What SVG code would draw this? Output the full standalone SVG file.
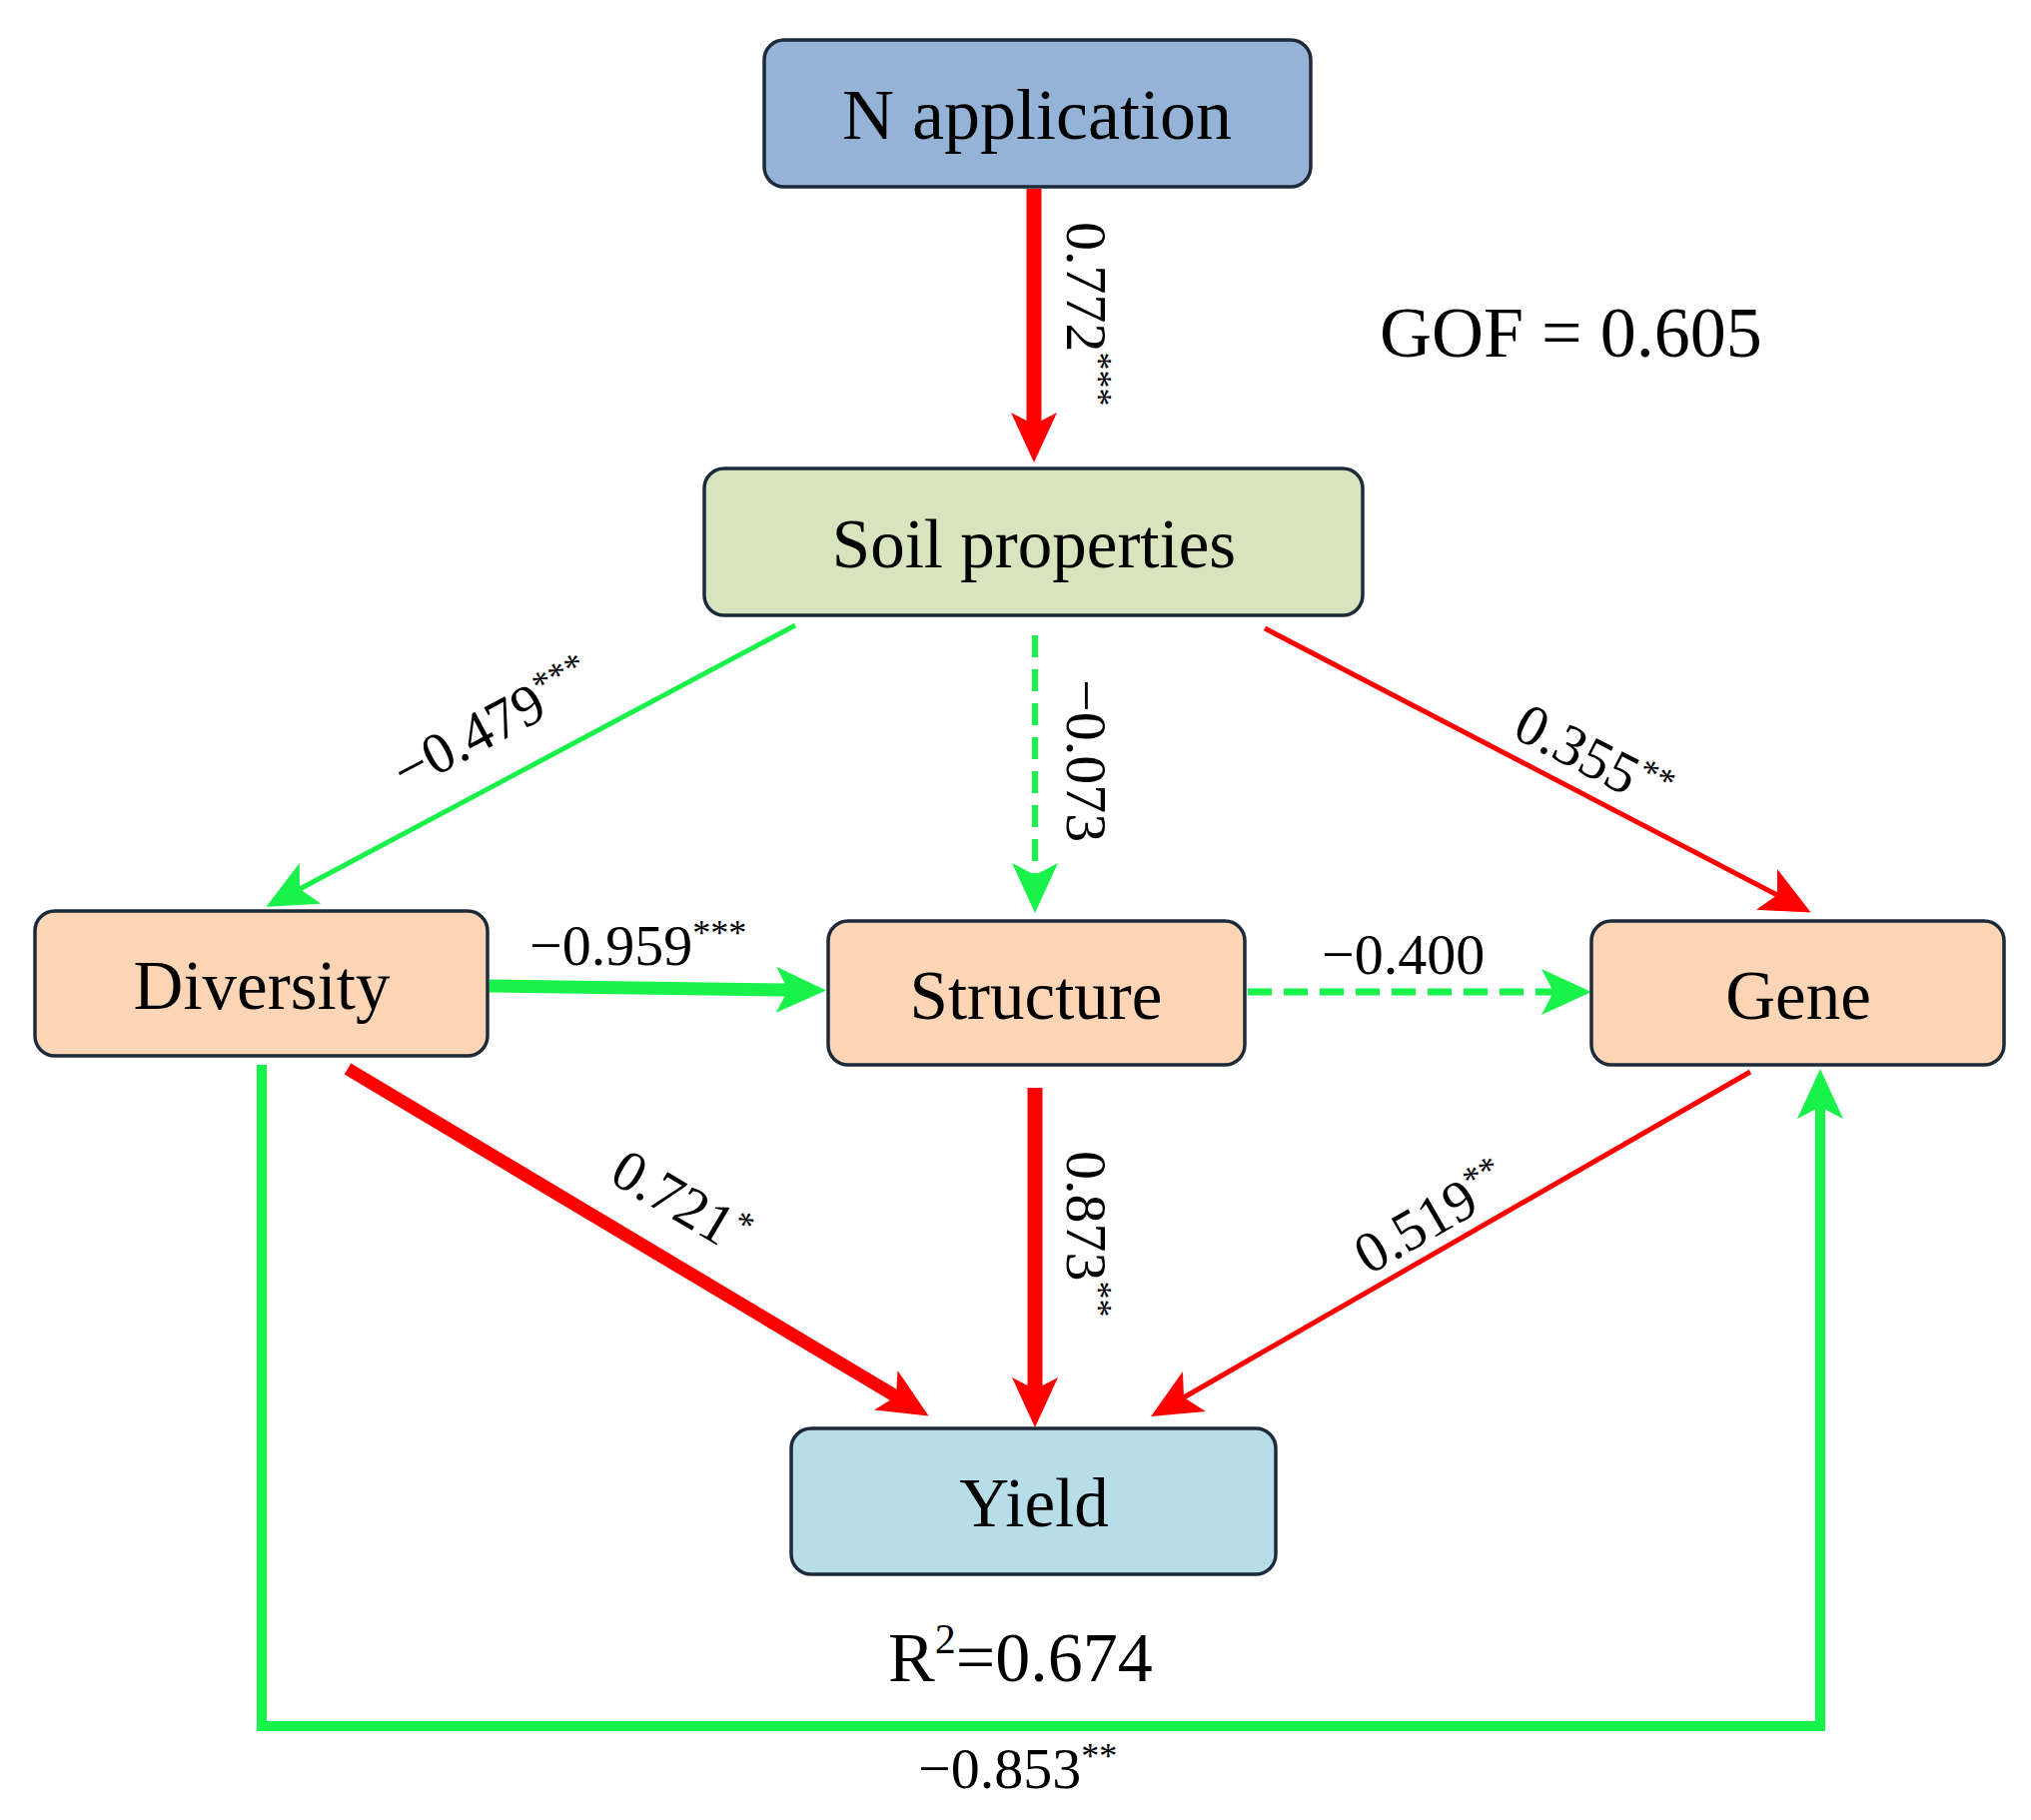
<svg xmlns="http://www.w3.org/2000/svg" width="2033" height="1822" viewBox="0 0 2033 1822">
<style>
.n{stroke:#1d2a3a;stroke-width:3.5}
.t{font-family:"Liberation Serif",serif;font-size:69px;text-anchor:middle;fill:#000}
.l{font-family:"Liberation Serif",serif;font-size:58px;fill:#000}
.s{font-size:36px}
.r{stroke:#ff0000;fill:none}
.g{stroke:#19f24a;fill:none}
</style>
<defs>
<marker id="ar" viewBox="0 0 50 46" refX="12" refY="23" markerWidth="50" markerHeight="46" markerUnits="userSpaceOnUse" orient="auto"><path d="M0,0 L50,23 L0,46 L12,23 Z" fill="#ff0000"/></marker>
<marker id="ag" viewBox="0 0 50 46" refX="12" refY="23" markerWidth="50" markerHeight="46" markerUnits="userSpaceOnUse" orient="auto"><path d="M0,0 L50,23 L0,46 L12,23 Z" fill="#19f24a"/></marker>
</defs>
<rect width="2033" height="1822" fill="#fff"/>
<g id="connectors">
<line class="r" x1="1035" y1="189" x2="1035" y2="425" stroke-width="15" marker-end="url(#ar)"/>
<line class="g" x1="796" y1="626" x2="300" y2="890" stroke-width="5" marker-end="url(#ag)"/>
<line class="g" x1="1036" y1="636" x2="1036" y2="876" stroke-width="6" stroke-dasharray="22,12" marker-end="url(#ag)"/>
<line class="r" x1="1266" y1="629" x2="1779" y2="896" stroke-width="5" marker-end="url(#ar)"/>
<line class="g" x1="490" y1="987" x2="789" y2="991" stroke-width="13" marker-end="url(#ag)"/>
<line class="g" x1="1249" y1="993" x2="1555" y2="993" stroke-width="7" stroke-dasharray="24,12" marker-end="url(#ag)"/>
<line class="r" x1="348" y1="1070" x2="897" y2="1398" stroke-width="13" marker-end="url(#ar)"/>
<line class="r" x1="1036" y1="1089" x2="1036" y2="1391" stroke-width="15" marker-end="url(#ar)"/>
<line class="r" x1="1752" y1="1073" x2="1185" y2="1399" stroke-width="5" marker-end="url(#ar)"/>
<path class="g" d="M262,1066 V1728 H1822 V1108" stroke-width="10" marker-end="url(#ag)"/>
</g>
<g id="n_app"><rect class="n" x="765" y="40" width="547" height="147" rx="20" fill="#95b3d7"/><text class="t" x="1038" y="139" style="font-size:72px">N application</text></g>
<g id="soil"><rect class="n" x="705" y="469" width="659" height="147" rx="20" fill="#d7e4bd"/><text class="t" x="1035" y="568">Soil properties</text></g>
<g id="diversity"><rect class="n" x="35" y="912" width="453" height="145" rx="20" fill="#fbd5b5"/><text class="t" x="262" y="1010">Diversity</text></g>
<g id="structure"><rect class="n" x="829" y="922" width="417" height="144" rx="20" fill="#fbd5b5"/><text class="t" x="1037" y="1020">Structure</text></g>
<g id="gene"><rect class="n" x="1593" y="922" width="413" height="144" rx="20" fill="#fbd5b5"/><text class="t" x="1800" y="1020">Gene</text></g>
<g id="yield"><rect class="n" x="792" y="1430" width="485" height="146" rx="20" fill="#b7dde8"/><text class="t" x="1035" y="1528">Yield</text></g>
<g id="labels">
<text class="l" transform="translate(1068,222) rotate(90)">0.772<tspan class="s" dy="-20">***</tspan></text>
<text class="l" x="1381" y="357" style="font-size:72px">GOF = 0.605</text>
<text class="l" transform="translate(406,793) rotate(-28)">−0.479<tspan class="s" dy="-20">***</tspan></text>
<text class="l" transform="translate(1068,680) rotate(90)">−0.073</text>
<text class="l" transform="translate(1512,737) rotate(27.5)">0.355<tspan class="s" dy="-20">**</tspan></text>
<text class="l" x="530" y="966">−0.959<tspan class="s" dy="-20">***</tspan></text>
<text class="l" x="1323" y="975">−0.400</text>
<text class="l" transform="translate(608,1182) rotate(30.5)">0.721<tspan class="s" dy="-20">*</tspan></text>
<text class="l" transform="translate(1068,1152) rotate(90)">0.873<tspan class="s" dy="-20">**</tspan></text>
<text class="l" transform="translate(1370,1277) rotate(-30)">0.519<tspan class="s" dy="-20">**</tspan></text>
<text class="l" x="889" y="1683" style="font-size:70px">R<tspan style="font-size:42px" dy="-28">2</tspan><tspan dy="28">=0.674</tspan></text>
<text class="l" x="919" y="1790">−0.853<tspan class="s" dy="-20">**</tspan></text>
</g>
</svg>
